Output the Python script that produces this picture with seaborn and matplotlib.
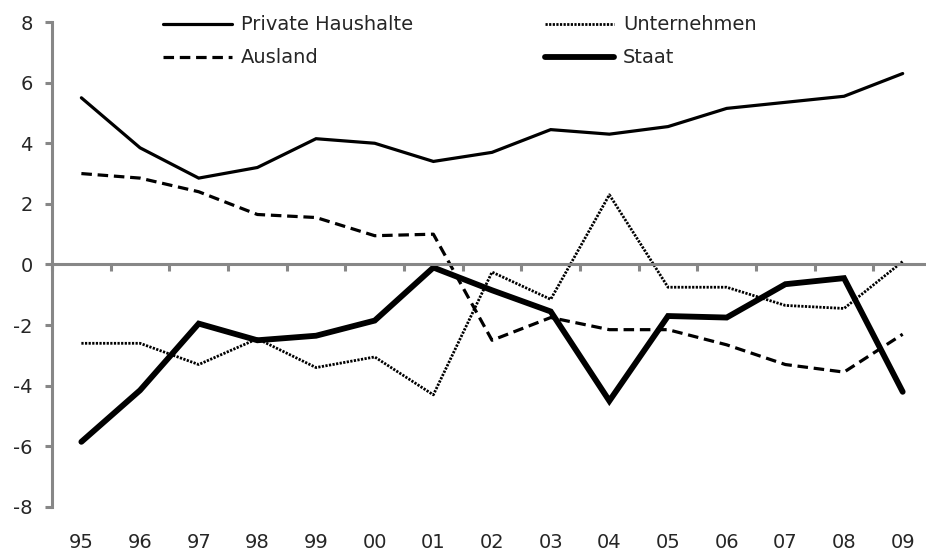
import numpy as np
import pandas as pd
import matplotlib
matplotlib.use('Agg')
import matplotlib.pyplot as plt
import seaborn as sns

years = ['95', '96', '97', '98', '99', '00', '01', '02', '03', '04', '05', '06', '07', '08', '09']
private_haushalte = [5.5, 3.85, 2.85, 3.2, 4.15, 4.0, 3.4, 3.7, 4.45, 4.3, 4.55, 5.15, 5.35, 5.55, 6.3]
unternehmen = [-2.6, -2.6, -3.3, -2.45, -3.4, -3.05, -4.3, -0.25, -1.15, 2.3, -0.75, -0.75, -1.35, -1.45, 0.1]
ausland = [3.0, 2.85, 2.4, 1.65, 1.55, 0.95, 1.0, -2.5, -1.75, -2.15, -2.15, -2.65, -3.3, -3.55, -2.3]
staat = [-5.85, -4.15, -1.95, -2.5, -2.35, -1.85, -0.1, -0.85, -1.55, -4.5, -1.7, -1.75, -0.65, -0.45, -4.2]

df = pd.DataFrame({
    'pos': np.arange(len(years)),
    'Private Haushalte': private_haushalte,
    'Unternehmen': unternehmen,
    'Ausland': ausland,
    'Staat': staat,
})

sns.set_style('white')
plt.rcParams['font.family'] = ['DejaVu Sans']
plt.rcParams['axes.unicode_minus'] = False
text_col = '#262626'
grey = '#878787'
fs = 14

fig = plt.figure(figsize=(9.26, 5.53), dpi=100)
ax = fig.add_axes([0.0562, 0.0832, 0.9503, 0.877])

styles = {
    'Private Haushalte': dict(lw=2.3, ls='-'),
    'Unternehmen': dict(lw=2.0, ls=(0, (0.8, 0.5))),
    'Ausland': dict(lw=2.3, ls=(0, (3.3, 1.8))),
    'Staat': dict(lw=4.2, ls='-'),
}
for name in ['Ausland', 'Unternehmen', 'Private Haushalte', 'Staat']:
    sns.lineplot(data=df, x='pos', y=name, ax=ax, color='black', label=name,
                 linewidth=styles[name]['lw'], linestyle=styles[name]['ls'],
                 solid_capstyle='round', solid_joinstyle='miter', legend=False)

ax.set_xlim(-0.5, 14.5)
ax.set_ylim(-8, 8)
ax.set_yticks(range(-8, 9, 2))
ax.set_xlabel('')
ax.set_ylabel('')

# zero line with category boundary ticks
ax.spines['bottom'].set_position(('data', 0))
ax.spines['bottom'].set_color(grey)
ax.spines['bottom'].set_linewidth(2.2)
ax.spines['left'].set_color(grey)
ax.spines['left'].set_linewidth(2.2)
ax.spines['top'].set_visible(False)
ax.spines['right'].set_visible(False)
ax.set_xticks(np.arange(-0.5, 14.6, 1.0))
ax.set_xticklabels([])
ax.tick_params(axis='x', direction='out', length=5, width=2.2, color=grey, bottom=True)
ax.tick_params(axis='y', direction='out', length=5, width=2.2, color=grey, left=True,
               labelsize=fs, labelcolor=text_col, pad=9)

sec = ax.secondary_xaxis(0)
sec.set_xticks(df['pos'])
sec.set_xticklabels(years)
sec.spines['bottom'].set_visible(False)
sec.tick_params(axis='x', length=0, labelsize=fs, labelcolor=text_col, pad=19)

h = {l.get_label(): l for l in ax.get_lines()}
order = ['Private Haushalte', 'Ausland', 'Unternehmen', 'Staat']
fig.legend([h[k] for k in order], order, loc='upper left', bbox_to_anchor=(0.176, 0.972),
           ncol=2, frameon=False, fontsize=fs, handlelength=3.55, handletextpad=0.45,
           columnspacing=6.8, labelspacing=0.72, borderpad=0, borderaxespad=0,
           labelcolor=text_col)

fig.savefig('out.png', dpi=100)
